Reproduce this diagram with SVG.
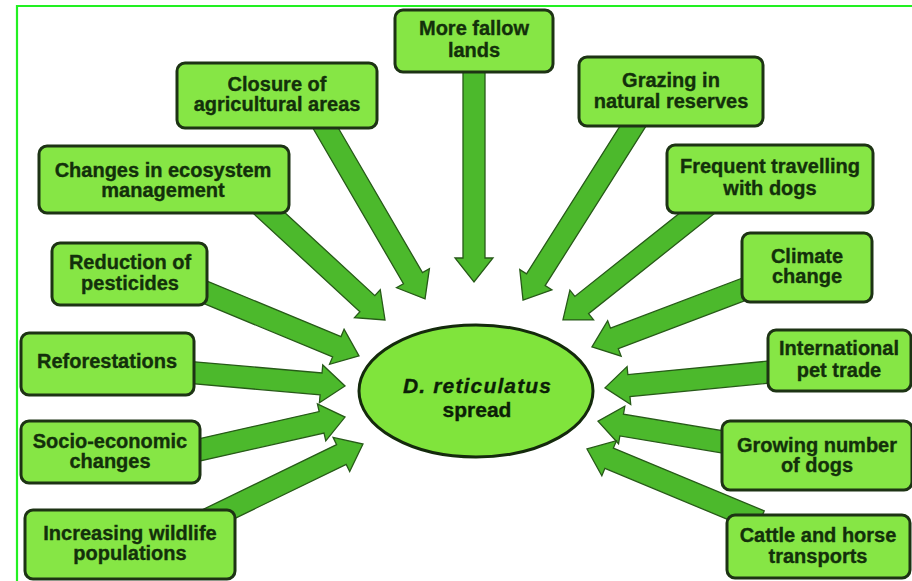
<svg xmlns="http://www.w3.org/2000/svg" width="912" height="581" viewBox="0 0 912 581">
<style>
.box{fill:#86e645;stroke:#1d3314;stroke-width:3}
.arr{fill:#4cb92c;stroke:#275a18;stroke-width:1.3;stroke-linejoin:miter}
.t{font-family:"Liberation Sans",Arial,sans-serif;font-weight:bold;font-size:20px;fill:#13300b;stroke:#13300b;stroke-width:0.35;text-anchor:middle}
.c{font-size:21px;fill:#0c1f07;stroke:#0c1f07}
</style>
<rect x="0" y="0" width="912" height="581" fill="#ffffff"/>
<path d="M17,581 V6 H912" fill="none" stroke="#22f022" stroke-width="2.2"/>
<g id="connectors">
<path class="arr" transform="translate(474,60) rotate(90)" d="M0,-11 H198 V-19 L222,0 L198,19 V11 H0 Z"/>
<path class="arr" transform="translate(318,115) rotate(59.8)" d="M0,-11 H188.8 V-19 L212.8,0 L188.8,19 V11 H0 Z"/>
<path class="arr" transform="translate(255,200) rotate(42.7)" d="M0,-11 H152.9 V-19 L176.9,0 L152.9,19 V11 H0 Z"/>
<path class="arr" transform="translate(195,288) rotate(22.5)" d="M0,-11 H153.5 V-19 L177.5,0 L153.5,19 V11 H0 Z"/>
<path class="arr" transform="translate(185,372) rotate(5)" d="M0,-11 H136.6 V-19 L160.6,0 L136.6,19 V11 H0 Z"/>
<path class="arr" transform="translate(190,452) rotate(-12.7)" d="M0,-11 H134.9 V-19 L158.9,0 L134.9,19 V11 H0 Z"/>
<path class="arr" transform="translate(190,528) rotate(-25.9)" d="M0,-11 H168.3 V-19 L192.3,0 L168.3,19 V11 H0 Z"/>
<path class="arr" transform="translate(640,115) rotate(122.3)" d="M0,-11 H194.9 V-19 L218.9,0 L194.9,19 V11 H0 Z"/>
<path class="arr" transform="translate(710,203) rotate(141.5)" d="M0,-11 H163.9 V-19 L187.9,0 L163.9,19 V11 H0 Z"/>
<path class="arr" transform="translate(755,285) rotate(159.2)" d="M0,-11 H150.4 V-19 L174.4,0 L150.4,19 V11 H0 Z"/>
<path class="arr" transform="translate(780,371) rotate(174.5)" d="M0,-11 H151.8 V-19 L175.8,0 L151.8,19 V11 H0 Z"/>
<path class="arr" transform="translate(735,444) rotate(-170.5)" d="M0,-11 H114.9 V-19 L138.9,0 L114.9,19 V11 H0 Z"/>
<path class="arr" transform="translate(760,521) rotate(-157.4)" d="M0,-11 H163.4 V-19 L187.4,0 L163.4,19 V11 H0 Z"/>
</g>
<g id="n-fallow"><rect class="box" x="395" y="10" width="158" height="62" rx="8"/><text class="t" x="474" y="35">More fallow</text><text class="t" x="474" y="57">lands</text></g>
<g id="n-closure"><rect class="box" x="177" y="63" width="200" height="65" rx="8"/><text class="t" x="277" y="91">Closure of</text><text class="t" x="277" y="111">agricultural areas</text></g>
<g id="n-grazing"><rect class="box" x="579" y="57" width="184" height="69" rx="8"/><text class="t" x="671" y="87">Grazing in</text><text class="t" x="671" y="108">natural reserves</text></g>
<g id="n-ecosystem"><rect class="box" x="39" y="146" width="250" height="67" rx="8"/><text class="t" x="163" y="177">Changes in ecosystem</text><text class="t" x="163" y="197">management</text></g>
<g id="n-travelling"><rect class="box" x="667" y="145" width="206" height="68" rx="8"/><text class="t" x="770" y="173">Frequent travelling</text><text class="t" x="770" y="195">with  dogs</text></g>
<g id="n-pesticides"><rect class="box" x="52" y="243" width="155" height="62" rx="8"/><text class="t" x="130" y="269">Reduction of</text><text class="t" x="130" y="290">pesticides</text></g>
<g id="n-climate"><rect class="box" x="742" y="233" width="130" height="69" rx="8"/><text class="t" x="807" y="263">Climate</text><text class="t" x="807" y="283">change</text></g>
<g id="n-reforestations"><rect class="box" x="21" y="333" width="173" height="62" rx="8"/><text class="t" x="107" y="368">Reforestations</text></g>
<g id="n-pettrade"><rect class="box" x="768" y="330" width="143" height="61" rx="8"/><text class="t" x="839" y="355">International</text><text class="t" x="839" y="377">pet trade</text></g>
<g id="n-socio"><rect class="box" x="21" y="421" width="179" height="62" rx="8"/><text class="t" x="110" y="448">Socio-economic</text><text class="t" x="110" y="468">changes</text></g>
<g id="n-dogs"><rect class="box" x="722" y="421" width="190" height="69" rx="8"/><text class="t" x="817" y="452">Growing  number</text><text class="t" x="817" y="472">of dogs</text></g>
<g id="n-wildlife"><rect class="box" x="25" y="510" width="210" height="69" rx="8"/><text class="t" x="130" y="540">Increasing  wildlife</text><text class="t" x="130" y="560">populations</text></g>
<g id="n-transports"><rect class="box" x="727" y="515" width="183" height="63" rx="8"/><text class="t" x="818" y="542">Cattle and horse</text><text class="t" x="818" y="563">transports</text></g>
<g id="n-center"><ellipse cx="476" cy="391" rx="117" ry="66" fill="#80e43c" stroke="#142a0c" stroke-width="3"/><text class="t c" x="477" y="393" font-style="italic" textLength="148" lengthAdjust="spacing">D. reticulatus</text><text class="t c" x="477" y="417">spread</text></g>
</svg>
